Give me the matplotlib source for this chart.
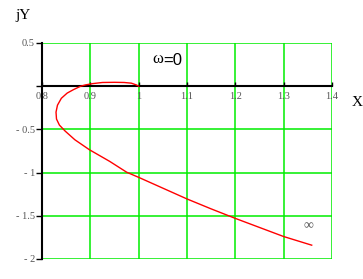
import matplotlib
matplotlib.use("Agg")
import matplotlib.pyplot as plt

# Nyquist-like locus
re_x = [1.000, 0.995, 0.985, 0.970, 0.950, 0.925, 0.905, 0.890, 0.880, 0.865,
        0.852, 0.840, 0.832, 0.829, 0.830, 0.836, 0.848, 0.868, 0.898, 0.940,
        0.975, 1.000, 1.050, 1.100, 1.150, 1.200, 1.250, 1.300, 1.358]
im_y = [0.000, 0.015, 0.035, 0.043, 0.045, 0.043, 0.030, 0.015, 0.000, -0.040,
        -0.080, -0.140, -0.220, -0.300, -0.380, -0.450, -0.520, -0.620, -0.735, -0.870,
        -0.995, -1.055, -1.180, -1.305, -1.420, -1.530, -1.635, -1.740, -1.840]

x_ticks = [0.8, 0.9, 1.0, 1.1, 1.2, 1.3, 1.4]
x_tick_labels = ["0.8", "0.9", "1", "1.1", "1.2", "1.3", "1.4"]
y_ticks = [0.5, 0, -0.5, -1, -1.5, -2]
y_tick_labels = ["0.5", "", "- 0.5", "- 1", "- 1.5", "- 2"]

serif = "Liberation Serif"
grey = "#555555"

fig = plt.figure(figsize=(3.63, 2.79), dpi=100)
ax = fig.add_axes([42 / 363, 20 / 279, 290 / 363, 216 / 279])

for s in ("top", "right"):
    ax.spines[s].set_visible(False)
ax.spines["bottom"].set_position(("data", 0))
ax.spines["bottom"].set_linewidth(1.5)
ax.spines["left"].set_linewidth(1.5)
ax.spines["bottom"].set_zorder(3)

ax.set_xlim(0.8, 1.4)
ax.set_ylim(-2, 0.5)
ax.set_xticks(x_ticks)
ax.set_xticklabels(x_tick_labels, fontfamily=serif, fontsize=7.5, color=grey)
ax.set_yticks(y_ticks)
ax.set_yticklabels(y_tick_labels, fontfamily=serif, fontsize=7.5, color=grey)
ax.tick_params(axis="x", direction="in", length=3, width=1, pad=4)
ax.tick_params(axis="y", direction="out", length=4, width=1, pad=1)
ax.grid(True, color="#00ee00", lw=1.1)
ax.set_axisbelow(True)

ax.plot(re_x, im_y, color="red", lw=1, zorder=4)

ax.text(1.028, 0.31, "\u03c9", fontfamily=serif, fontsize=12, va="center", ha="left")
ax.text(1.050, 0.30, "=0", fontfamily="Liberation Sans", fontsize=12, va="center", ha="left")
ax.text(1.352, -1.62, "\u221e", fontfamily=serif, fontsize=10, color=grey,
        va="center", ha="center")

fig.text(15 / 363, 1 - 16 / 279, "jY", fontfamily=serif, fontsize=11, va="center", ha="left")
fig.text(352 / 363, 1 - 102 / 279, "X", fontfamily=serif, fontsize=11, va="center", ha="left")

fig.savefig("out.png", dpi=100)
